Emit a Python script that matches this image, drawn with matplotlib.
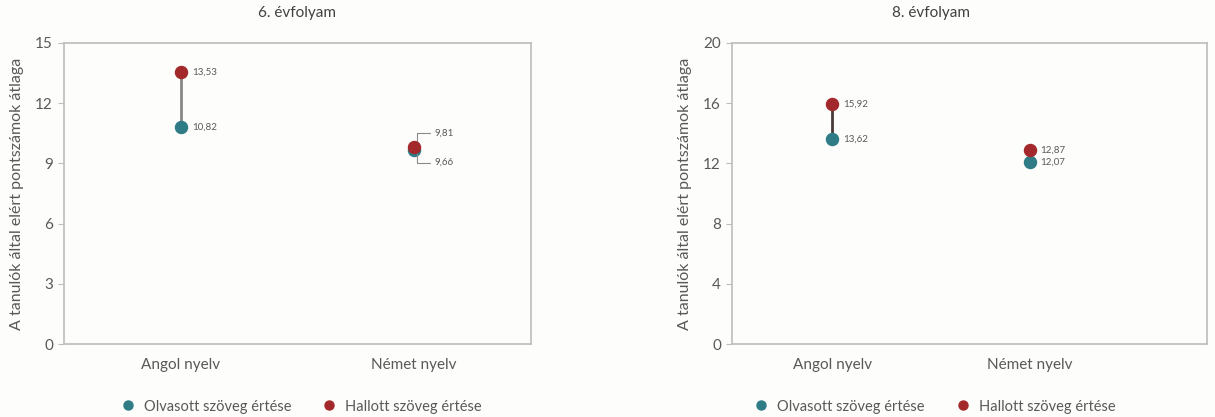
import matplotlib.pyplot as plt
from matplotlib.lines import Line2D
from matplotlib.transforms import blended_transform_factory

# data
categories = ['Angol nyelv', 'Német nyelv']
read_6 = [10.82, 9.66]
heard_6 = [13.53, 9.81]
read_8 = [13.62, 12.07]
heard_8 = [15.92, 12.87]

titles = ['6. évfolyam', '8. évfolyam']
ylabel = 'A tanulók által elért pontszámok átlaga'
legend_labels = ['Olvasott szöveg értése', 'Hallott szöveg értése']
yticks_6 = [0, 3, 6, 9, 12, 15]
yticks_8 = [0, 4, 8, 12, 16, 20]

TEAL = '#2f7c86'
RED = '#a3282c'
GREY = '#595959'
EDGE = '#bdbdbd'
BG = '#fdfdfb'

plt.rcParams['font.family'] = ['Lato', 'DejaVu Sans']


def fmt(v):
    return f'{v:.2f}'.replace('.', ',')


def draw_panel(fig, rect, read, heard, yticks, title, xlim, label_pos, line_col):
    """ Draw one dumbbell panel """
    ax = fig.add_axes(rect)
    ax.set_facecolor(BG)
    x = list(range(len(categories)))

    # connecting lines
    for xi, r, h in zip(x, read, heard):
        ax.plot([xi, xi], [r, h], color=line_col, lw=2, zorder=2)

    ax.scatter(x, read, s=75, color=TEAL, zorder=3)
    ax.scatter(x, heard, s=75, color=RED, zorder=4)

    # value labels
    for xi, r, h, pos in zip(x, read, heard, label_pos):
        if pos == 'leader':
            for v, dy in ((h, 11), (r, -10)):
                ax.annotate(fmt(v), xy=(xi + 0.01, (r + h) / 2), xytext=(13, dy),
                            textcoords='offset points', fontsize=7,
                            color=GREY, va='center', ha='left',
                            arrowprops=dict(arrowstyle='-', color='#8a8a8a',
                                            lw=0.8, shrinkA=1, shrinkB=4,
                                            connectionstyle='angle,angleA=0,angleB=90'))
        else:
            for v in (r, h):
                ax.annotate(fmt(v), xy=(xi, v), xytext=(8, 0),
                            textcoords='offset points', fontsize=7,
                            color=GREY, va='center', ha='left')

    ax.set_xlim(*xlim)
    ax.set_ylim(yticks[0], yticks[-1])
    ax.set_yticks(yticks)
    ax.set_xticks(x)
    ax.set_xticklabels(categories)
    ax.tick_params(axis='x', length=0, pad=10, labelsize=11, labelcolor=GREY)
    ax.tick_params(axis='y', length=4, color=EDGE, pad=4, labelsize=11,
                   labelcolor=GREY)
    for sp in ax.spines.values():
        sp.set_color(EDGE)
        sp.set_linewidth(1.2)
    ax.set_ylabel(ylabel, fontsize=11.5, color=GREY, labelpad=8)

    # title and legend centred on the -0.5..1.5 category range
    trans = blended_transform_factory(ax.transData, fig.transFigure)
    ax.text(0.5, 0.97, title, transform=trans, ha='center', va='center',
            fontsize=11, color='#404040')
    handles = [Line2D([], [], marker='o', ls='', color=c, markersize=6.5)
               for c in (TEAL, RED)]
    disp = ax.transData.transform((0.5, 0))
    fx = fig.transFigure.inverted().transform(disp)[0]
    fig.legend(handles, legend_labels, loc='center', ncol=2,
               bbox_to_anchor=(fx, 0.025), frameon=False, fontsize=10.5,
               labelcolor=GREY, handletextpad=0.1, columnspacing=1.6)
    return ax


def main():
    fig = plt.figure(figsize=(12.15, 4.17), dpi=100)
    fig.patch.set_facecolor(BG)

    draw_panel(fig, [0.0527, 0.175, 0.3843, 0.722], read_6, heard_6,
               yticks_6, titles[0], (-0.5, 1.5), ['side', 'leader'], '#888888')
    draw_panel(fig, [0.6025, 0.175, 0.391, 0.722], read_8, heard_8,
               yticks_8, titles[1], (-0.508, 1.9), ['side', 'side'], '#4a3a3a')

    fig.savefig('out.png', dpi=100, facecolor=BG)


if __name__ == '__main__':
    main()
